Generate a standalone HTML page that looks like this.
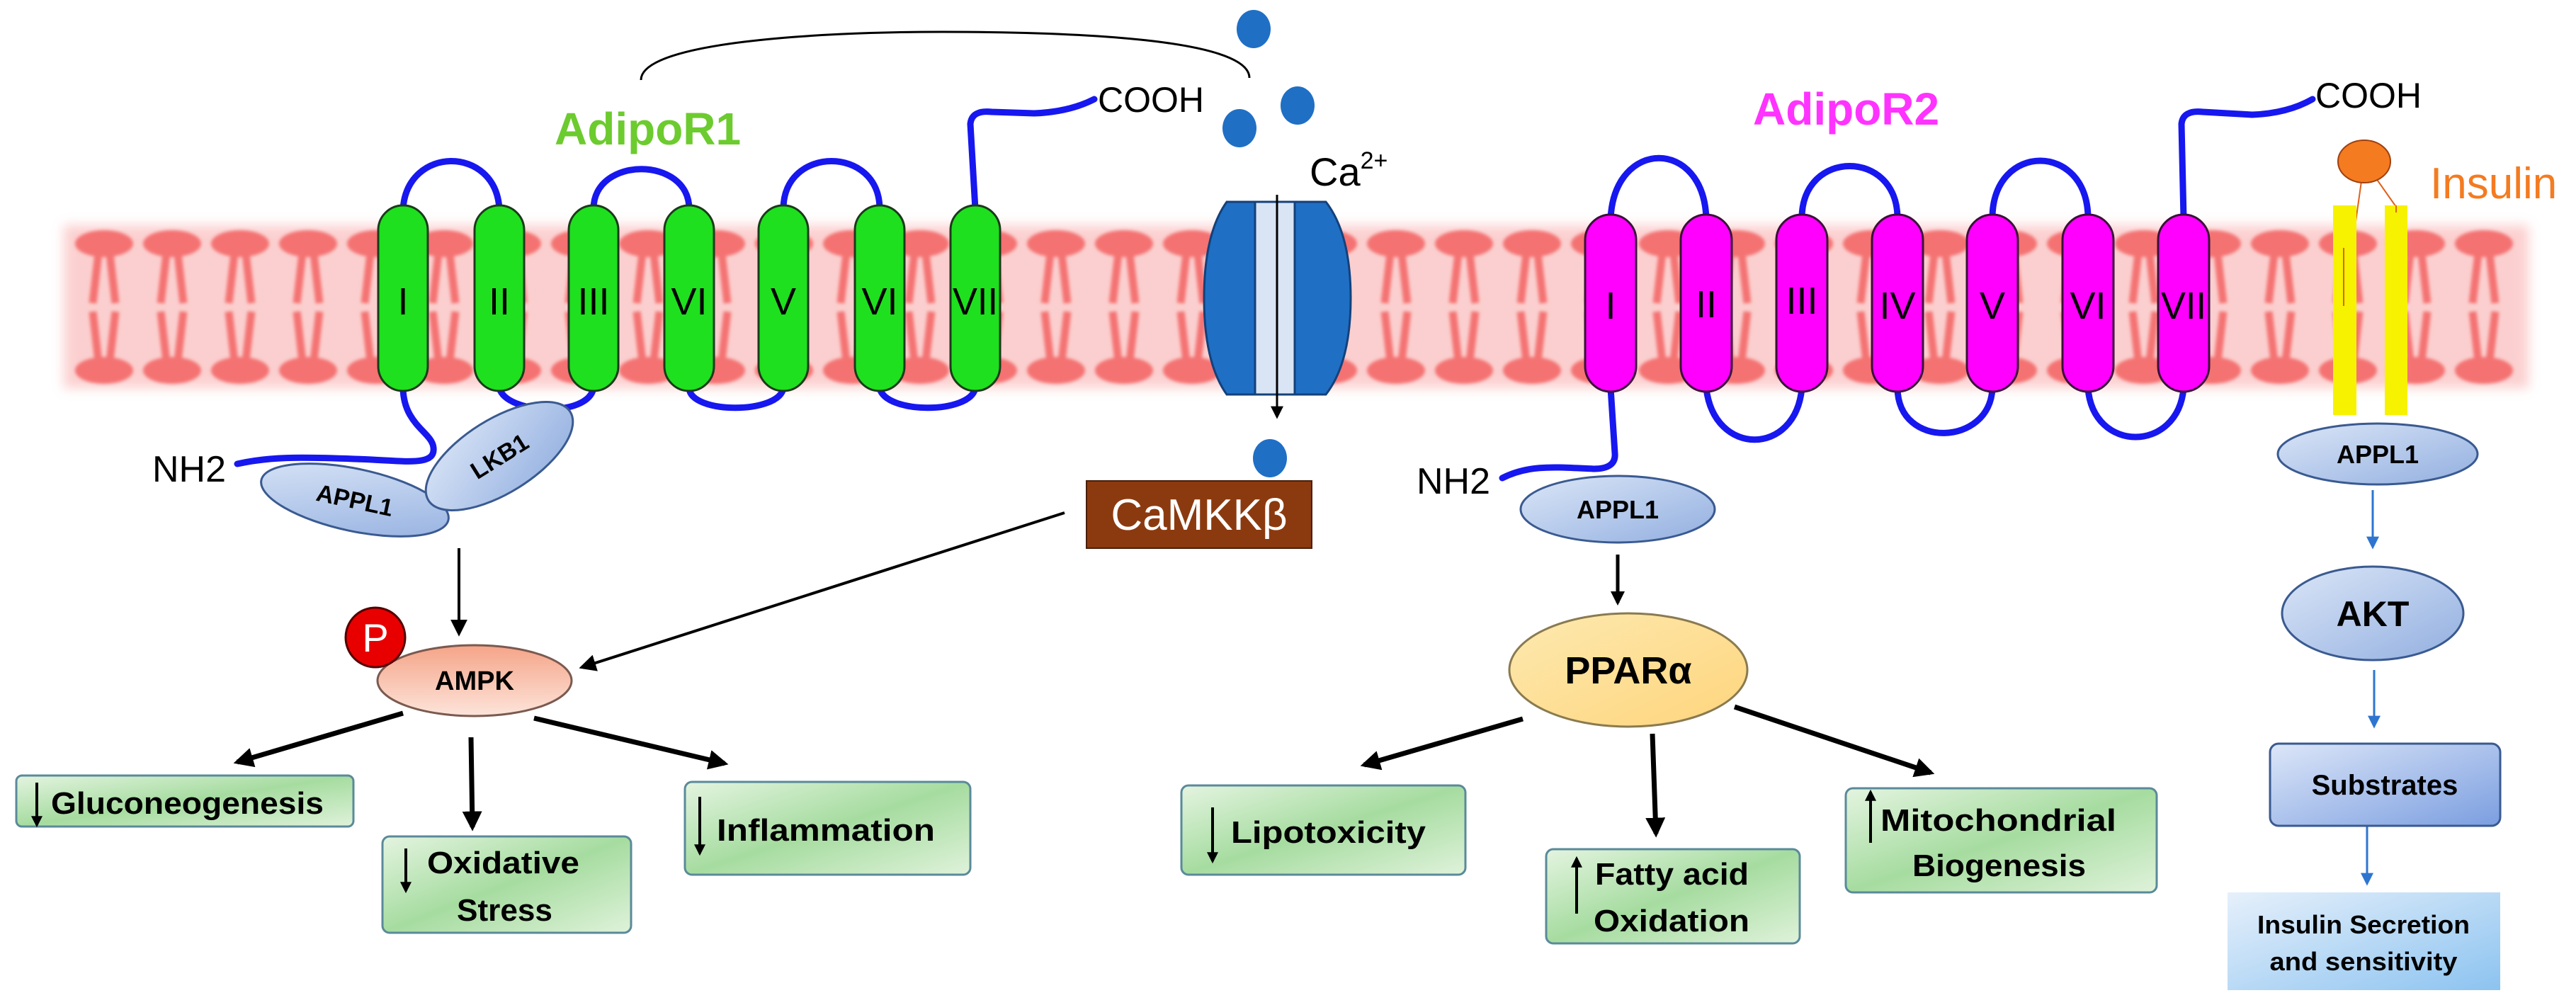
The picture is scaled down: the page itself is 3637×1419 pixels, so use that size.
<!DOCTYPE html>
<html><head><meta charset="utf-8"><style>
html,body{margin:0;padding:0;background:#fff}
svg{display:block}
text{font-family:"Liberation Sans",Arial,sans-serif}
.b{font-weight:bold}
</style></head><body>
<svg width="3637" height="1419" viewBox="0 0 3637 1419" xmlns="http://www.w3.org/2000/svg">
<defs>
<filter id="blur" x="-10%" y="-50%" width="120%" height="200%"><feGaussianBlur stdDeviation="8"/></filter>
<filter id="sblur"><feGaussianBlur stdDeviation="2.5"/></filter>
<pattern id="lip" x="99" y="0" width="96" height="1419" patternUnits="userSpaceOnUse">
<g fill="#f47272" stroke="#f47272">
<ellipse cx="48" cy="344" rx="41" ry="19" stroke="none"/>
<ellipse cx="48" cy="523" rx="41" ry="19" stroke="none"/>
<path d="M40 358 L32 428 M56 358 L64 428 M32 440 L40 510 M64 440 L56 510" stroke-width="11" fill="none"/>
</g>
</pattern>
<linearGradient id="gbox" x1="0" y1="0" x2="1" y2="1"><stop offset="0" stop-color="#e4f4e0"/><stop offset="0.5" stop-color="#a6dca0"/><stop offset="1" stop-color="#dff2da"/></linearGradient>
<linearGradient id="gampk" x1="0" y1="0" x2="0" y2="1"><stop offset="0" stop-color="#f5a488"/><stop offset="1" stop-color="#fde4da"/></linearGradient>
<linearGradient id="gppar" x1="0" y1="0" x2="1" y2="1"><stop offset="0" stop-color="#fde9b0"/><stop offset="1" stop-color="#fed57c"/></linearGradient>
<linearGradient id="gappl" x1="0" y1="0" x2="1" y2="1"><stop offset="0" stop-color="#dbe6f7"/><stop offset="1" stop-color="#92afe0"/></linearGradient>
<linearGradient id="gsub" x1="0" y1="0" x2="1" y2="1"><stop offset="0" stop-color="#dce6f8"/><stop offset="1" stop-color="#7b9ee0"/></linearGradient>
<linearGradient id="gins" x1="0" y1="0" x2="1" y2="1"><stop offset="0" stop-color="#e6f0fb"/><stop offset="1" stop-color="#8cc3f0"/></linearGradient>
<marker id="ah" viewBox="0 0 10 10" refX="8" refY="5" markerWidth="4" markerHeight="4" orient="auto"><path d="M0 0L10 5L0 10z" fill="#000"/></marker>
<marker id="ahs" viewBox="0 0 10 10" refX="8" refY="5" markerWidth="6" markerHeight="6" orient="auto"><path d="M0 0L10 5L0 10z" fill="#000"/></marker>
<marker id="ahb" viewBox="0 0 10 10" refX="8" refY="5" markerWidth="6" markerHeight="6" orient="auto"><path d="M0 0L10 5L0 10z" fill="#2e75d0"/></marker>
</defs>

<!-- membrane -->
<rect x="90" y="318" width="3480" height="230" fill="#fbc4c4" opacity="0.8" filter="url(#blur)"/>
<rect x="99" y="318" width="3460" height="230" fill="url(#lip)" filter="url(#sblur)"/>

<!-- bracket -->
<path d="M905 113 C905 60 1150 45 1330 45 C1520 45 1764 55 1764 110" fill="none" stroke="#000" stroke-width="3"/>

<!-- Ca dots -->
<g fill="#1f6fc5">
<ellipse cx="1770" cy="41" rx="24" ry="27"/>
<ellipse cx="1750" cy="181" rx="24" ry="27"/>
<ellipse cx="1832" cy="149" rx="24" ry="27"/>
<ellipse cx="1793" cy="647" rx="24" ry="27"/>
</g>
<text x="1849" y="262" font-size="56">Ca<tspan font-size="34" dy="-24">2+</tspan></text>

<!-- Ca channel -->
<path d="M1732 285 L1872 285 Q1907 330 1907 421 Q1907 512 1872 557 L1732 557 Q1700 512 1700 421 Q1700 330 1732 285Z" fill="#1f6fc5" stroke="#14417a" stroke-width="3"/>
<rect x="1772" y="285" width="56" height="272" fill="#d9e5f5" stroke="#14417a" stroke-width="3"/>
<line x1="1803" y1="275" x2="1803" y2="588" stroke="#000" stroke-width="3" marker-end="url(#ahs)"/>

<!-- CaMKK -->
<rect x="1534" y="679" width="318" height="95" fill="#8b3a0f" stroke="#4a1f08" stroke-width="2"/>
<text x="1693" y="748" font-size="62" fill="#fff" text-anchor="middle">CaMKKβ</text>

<!-- AdipoR1 -->
<text x="783" y="204" font-size="64" fill="#6ccb2e" class="b">AdipoR1</text>
<text x="1550" y="158" font-size="50">COOH</text>
<g fill="none" stroke="#1717f0" stroke-width="9" stroke-linecap="round">
<path d="M569 295 C575 205 700 205 705 295"/>
<path d="M838 295 C838 220 973 220 973 295"/>
<path d="M1106 295 C1106 205 1242 205 1242 295"/>
<path d="M705 548 C715 585 830 590 838 548"/>
<path d="M973 548 C975 585 1100 585 1106 548"/>
<path d="M1242 548 C1250 585 1370 585 1377 548"/>
<path d="M1377 295 L1370 175 Q1372 155 1400 158 L1460 160 Q1510 158 1545 140"/>
<path d="M569 548 C570 600 610 610 612 632 C615 660 570 650 500 648 C420 645 380 645 335 655"/>
</g>
<g fill="#1ee01e" stroke="#1a3a1a" stroke-width="3">
<rect x="534" y="290" width="70" height="262" rx="35"/>
<rect x="670" y="290" width="70" height="262" rx="35"/>
<rect x="803" y="290" width="70" height="262" rx="35"/>
<rect x="938" y="290" width="70" height="262" rx="35"/>
<rect x="1071" y="290" width="70" height="262" rx="35"/>
<rect x="1207" y="290" width="70" height="262" rx="35"/>
<rect x="1342" y="290" width="70" height="262" rx="35"/>
</g>
<g font-size="54" text-anchor="middle" fill="#000">
<text x="569" y="444">I</text><text x="705" y="444">II</text><text x="838" y="444">III</text><text x="973" y="444">VI</text><text x="1106" y="444">V</text><text x="1242" y="444">VI</text><text x="1377" y="444" textLength="64" lengthAdjust="spacingAndGlyphs">VII</text>
</g>
<text x="215" y="680" font-size="52">NH2</text>
<ellipse cx="501" cy="706" rx="135" ry="44" transform="rotate(12 501 706)" fill="url(#gappl)" stroke="#3a5a90" stroke-width="3"/>
<text x="501" y="718" font-size="34" class="b" text-anchor="middle" transform="rotate(12 501 706)">APPL1</text>
<ellipse cx="705" cy="644" rx="118" ry="52" transform="rotate(-32 705 644)" fill="url(#gappl)" stroke="#3a5a90" stroke-width="3"/>
<text x="705" y="656" font-size="34" class="b" text-anchor="middle" transform="rotate(-32 705 644)">LKB1</text>

<line x1="648" y1="774" x2="648" y2="894" stroke="#000" stroke-width="4" marker-end="url(#ahs)"/>
<line x1="1503" y1="724" x2="822" y2="942" stroke="#000" stroke-width="4" marker-end="url(#ahs)"/>

<ellipse cx="670" cy="961" rx="137" ry="50" fill="url(#gampk)" stroke="#7a5a50" stroke-width="3"/>
<text x="670" y="974" font-size="38" class="b" text-anchor="middle">AMPK</text>
<circle cx="530" cy="900" r="42" fill="#e80000" stroke="#500" stroke-width="3"/>
<text x="530" y="920" font-size="56" fill="#fff" text-anchor="middle">P</text>

<g stroke="#000" stroke-width="7" marker-end="url(#ah)">
<line x1="569" y1="1007" x2="335" y2="1076"/>
<line x1="665" y1="1041" x2="667" y2="1168"/>
<line x1="754" y1="1014" x2="1023" y2="1078"/>
<line x1="2150" y1="1015" x2="1926" y2="1080"/>
<line x1="2333" y1="1036" x2="2338" y2="1177"/>
<line x1="2449" y1="998" x2="2726" y2="1091"/>
<line x1="2284" y1="783" x2="2284" y2="851" stroke-width="5"/>
</g>

<!-- green boxes -->
<g fill="url(#gbox)" stroke="#5a8a9a" stroke-width="3">
<rect x="23" y="1095" width="476" height="72" rx="8"/>
<rect x="540" y="1181" width="351" height="136" rx="10"/>
<rect x="967" y="1104" width="403" height="131" rx="10"/>
<rect x="1668" y="1109" width="401" height="126" rx="10"/>
<rect x="2183" y="1199" width="358" height="133" rx="10"/>
<rect x="2606" y="1113" width="439" height="147" rx="10"/>
</g>
<g stroke="#000" stroke-width="4" marker-end="url(#ah)">
<line x1="52" y1="1105" x2="52" y2="1165"/>
<line x1="573" y1="1198" x2="573" y2="1258"/>
<line x1="988" y1="1125" x2="988" y2="1205"/>
<line x1="1712" y1="1140" x2="1712" y2="1216"/>
<line x1="2226" y1="1290" x2="2226" y2="1212"/>
<line x1="2641" y1="1190" x2="2641" y2="1118"/>
</g>
<g font-size="44" class="b" fill="#000">
<text x="72" y="1149" textLength="385" lengthAdjust="spacingAndGlyphs">Gluconeogenesis</text>
<text x="603" y="1233" textLength="215" lengthAdjust="spacingAndGlyphs">Oxidative</text>
<text x="645" y="1300" textLength="135" lengthAdjust="spacingAndGlyphs">Stress</text>
<text x="1012" y="1187" textLength="308" lengthAdjust="spacingAndGlyphs">Inflammation</text>
<text x="1738" y="1190" textLength="275" lengthAdjust="spacingAndGlyphs">Lipotoxicity</text>
<text x="2252" y="1249" textLength="217" lengthAdjust="spacingAndGlyphs">Fatty acid</text>
<text x="2250" y="1315" textLength="220" lengthAdjust="spacingAndGlyphs">Oxidation</text>
<text x="2655" y="1173" textLength="333" lengthAdjust="spacingAndGlyphs">Mitochondrial</text>
<text x="2700" y="1237" textLength="245" lengthAdjust="spacingAndGlyphs">Biogenesis</text>
</g>

<!-- AdipoR2 -->
<text x="2475" y="176" font-size="64" fill="#ff33ff" class="b">AdipoR2</text>
<text x="3269" y="152" font-size="50">COOH</text>
<g fill="none" stroke="#1717f0" stroke-width="9" stroke-linecap="round">
<path d="M2274 308 C2280 195 2405 195 2409 308"/>
<path d="M2544 308 C2544 210 2679 210 2679 308"/>
<path d="M2813 308 C2813 200 2948 200 2948 308"/>
<path d="M2409 548 C2420 645 2535 645 2544 548"/>
<path d="M2679 548 C2680 635 2810 630 2813 548"/>
<path d="M2948 548 C2955 640 3075 640 3083 548"/>
<path d="M3083 308 L3080 175 Q3082 155 3110 158 L3180 162 Q3230 160 3265 140"/>
<path d="M2274 548 L2280 640 Q2282 662 2250 662 C2200 660 2160 655 2121 675"/>
</g>
<g fill="#ff00ff" stroke="#3a103a" stroke-width="3">
<rect x="2238" y="303" width="72" height="250" rx="36"/>
<rect x="2373" y="303" width="72" height="250" rx="36"/>
<rect x="2508" y="303" width="72" height="250" rx="36"/>
<rect x="2643" y="303" width="72" height="250" rx="36"/>
<rect x="2777" y="303" width="72" height="250" rx="36"/>
<rect x="2912" y="303" width="72" height="250" rx="36"/>
<rect x="3047" y="303" width="72" height="250" rx="36"/>
</g>
<g font-size="54" text-anchor="middle" fill="#000">
<text x="2274" y="450">I</text><text x="2409" y="448">II</text><text x="2544" y="443">III</text><text x="2679" y="450">IV</text><text x="2813" y="450">V</text><text x="2948" y="450">VI</text><text x="3083" y="450" textLength="64" lengthAdjust="spacingAndGlyphs">VII</text>
</g>
<text x="2000" y="697" font-size="52">NH2</text>
<ellipse cx="2284" cy="719" rx="137" ry="47" fill="url(#gappl)" stroke="#3a5a90" stroke-width="3"/>
<text x="2284" y="732" font-size="36" class="b" text-anchor="middle">APPL1</text>
<ellipse cx="2299" cy="946" rx="168" ry="80" fill="url(#gppar)" stroke="#8a7a50" stroke-width="3"/>
<text x="2299" y="965" font-size="54" class="b" text-anchor="middle">PPARα</text>

<!-- Insulin receptor -->
<line x1="3338" y1="228" x2="3309" y2="432" stroke="#e0601a" stroke-width="2"/>
<line x1="3338" y1="228" x2="3383" y2="292" stroke="#e0601a" stroke-width="2"/>
<rect x="3294" y="290" width="33" height="296" fill="#f7f200"/>
<rect x="3367" y="290" width="32" height="296" fill="#f7f200"/>
<line x1="3309" y1="350" x2="3309" y2="432" stroke="#e0601a" stroke-width="2"/>
<line x1="3383" y1="290" x2="3383" y2="300" stroke="#e0601a" stroke-width="2"/>
<ellipse cx="3338" cy="228" rx="37" ry="30" fill="#f47b20" stroke="#a04010" stroke-width="2"/>
<text x="3431" y="280" font-size="62" fill="#f47b20">Insulin</text>
<ellipse cx="3357" cy="641" rx="141" ry="43" fill="url(#gappl)" stroke="#3a5a90" stroke-width="3"/>
<text x="3357" y="654" font-size="36" class="b" text-anchor="middle">APPL1</text>
<g stroke="#2e75d0" stroke-width="3" marker-end="url(#ahb)">
<line x1="3350" y1="692" x2="3350" y2="772"/>
<line x1="3352" y1="946" x2="3352" y2="1025"/>
<line x1="3342" y1="1167" x2="3342" y2="1247"/>
</g>
<ellipse cx="3350" cy="866" rx="128" ry="66" fill="url(#gappl)" stroke="#3a5a90" stroke-width="3"/>
<text x="3350" y="884" font-size="50" class="b" text-anchor="middle">AKT</text>
<rect x="3205" y="1050" width="325" height="116" rx="12" fill="url(#gsub)" stroke="#3a5a90" stroke-width="3"/>
<text x="3367" y="1122" font-size="40" class="b" text-anchor="middle">Substrates</text>
<rect x="3145" y="1260" width="385" height="138" fill="url(#gins)"/>
<text x="3337" y="1318" font-size="36" class="b" text-anchor="middle" textLength="300" lengthAdjust="spacingAndGlyphs">Insulin Secretion</text>
<text x="3337" y="1370" font-size="36" class="b" text-anchor="middle" textLength="265" lengthAdjust="spacingAndGlyphs">and sensitivity</text>
</svg>
</body></html>
